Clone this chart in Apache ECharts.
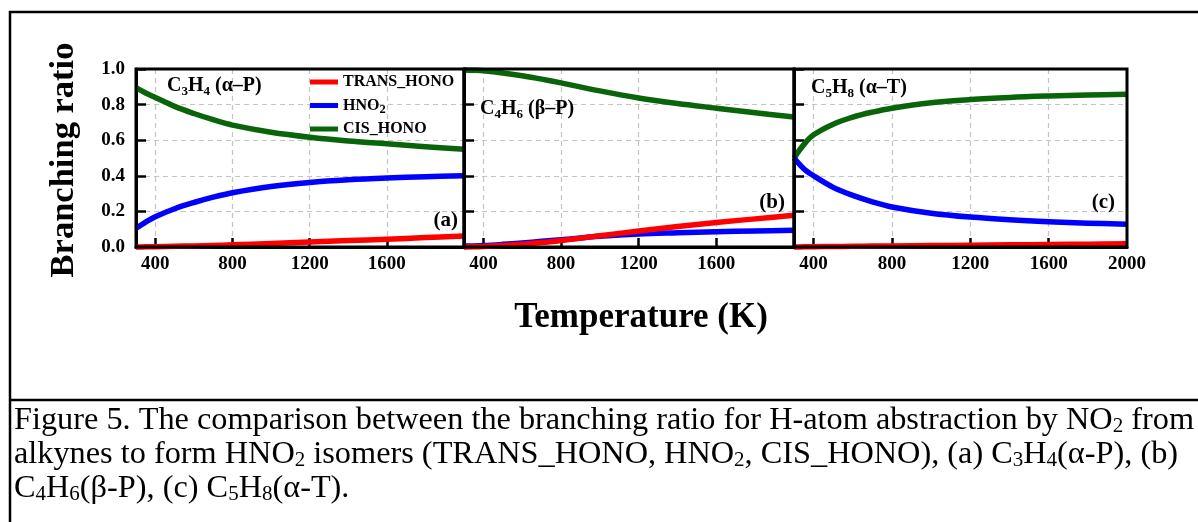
<!DOCTYPE html>
<html>
<head>
<meta charset="utf-8">
<script src="https://cdn.jsdelivr.net/npm/echarts@6/dist/echarts.min.js"></script>
<style>
  html, body { margin: 0; padding: 0; background: #fff; }
  #chart { width: 1198px; height: 522px; }
</style>
</head>
<body>
<div id="chart"></div>
<script>
// Temperature grid (K) shared by all three panels
const temps = [300, 350, 400, 500, 600, 700, 800, 1000, 1200, 1400, 1600, 1800, 2000];

// (a) C3H4 (alpha-P)
const transA = [0.000, 0.001, 0.002, 0.004, 0.006, 0.009, 0.012, 0.020, 0.028, 0.036, 0.044, 0.053, 0.062];
const hno2A  = [0.105, 0.140, 0.170, 0.215, 0.250, 0.280, 0.305, 0.340, 0.363, 0.378, 0.388, 0.395, 0.400];
const cisA   = [0.895, 0.865, 0.840, 0.790, 0.750, 0.715, 0.685, 0.645, 0.617, 0.596, 0.580, 0.563, 0.549];

// (b) C4H6 (beta-P)
const transB = [0.000, 0.001, 0.003, 0.008, 0.015, 0.025, 0.037, 0.063, 0.090, 0.115, 0.138, 0.158, 0.178];
const hno2B  = [0.005, 0.006, 0.008, 0.015, 0.023, 0.032, 0.041, 0.060, 0.073, 0.080, 0.086, 0.090, 0.094];
const cisB   = [0.995, 0.993, 0.990, 0.978, 0.962, 0.943, 0.922, 0.877, 0.837, 0.806, 0.780, 0.754, 0.730];

// (c) C5H8 (alpha-T)
const transC = [0.000, 0.001, 0.002, 0.003, 0.004, 0.005, 0.006, 0.008, 0.010, 0.012, 0.014, 0.016, 0.018];
const hno2C  = [0.500, 0.440, 0.400, 0.335, 0.290, 0.254, 0.225, 0.190, 0.168, 0.153, 0.142, 0.134, 0.128];
const cisC   = [0.500, 0.575, 0.630, 0.690, 0.730, 0.758, 0.780, 0.810, 0.828, 0.840, 0.848, 0.854, 0.858];

const seriesNames = ['TRANS_HONO', 'HNO2', 'CIS_HONO'];
const xTicksInner = [400, 800, 1200, 1600];
const xTicksLast = [400, 800, 1200, 1600, 2000];
const yTicks = { min: 0, max: 1, interval: 0.2 };

const panels = [
  { trans: transA, hno2: hno2A, cis: cisA },
  { trans: transB, hno2: hno2B, cis: cisB },
  { trans: transC, hno2: hno2C, cis: cisC }
];

const SERIF = '"Liberation Serif", "Times New Roman", serif';
const colors = { TRANS_HONO: '#ff0000', HNO2: '#0000ff', CIS_HONO: '#0a650a' };

const gridBoxes = [
  { left: 136, top: 69, width: 328, height: 178 },
  { left: 464, top: 69, width: 330, height: 178 },
  { left: 794, top: 69, width: 333, height: 178 }
];

const dashed = { show: true, lineStyle: { color: '#c4c4c4', type: [5, 4], width: 1.2 } };

// the panel frame sits above the curves; grid lines and ticks stay beneath them
const grids = gridBoxes.map(b => Object.assign({
  show: true, z: 10, borderColor: '#000', borderWidth: 3, backgroundColor: 'transparent',
  containLabel: false, outerBoundsMode: 'none'
}, b));

const xAxes = panels.map((p, i) => ({
  type: 'value', gridIndex: i, min: 300, max: 2000,
  axisLine: { show: true, onZero: false, lineStyle: { color: '#000', width: 3 } },
  axisTick: { show: true, inside: true, length: 9, customValues: xTicksInner, lineStyle: { color: '#000', width: 2.5 } },
  axisLabel: {
    show: true, customValues: i === 2 ? xTicksLast : xTicksInner, margin: 8,
    formatter: v => String(v),
    fontFamily: SERIF, fontWeight: 'bold', fontSize: 19, color: '#000'
  },
  splitLine: dashed
}));

const yAxes = panels.map((p, i) => ({
  type: 'value', gridIndex: i, min: yTicks.min, max: yTicks.max, interval: yTicks.interval,
  axisLine: { show: true, lineStyle: { color: '#000', width: 3 } },
  axisTick: { show: true, inside: true, length: 10, lineStyle: { color: '#000', width: 2.5 } },
  axisLabel: {
    show: i === 0, margin: 11, formatter: v => v.toFixed(1),
    fontFamily: SERIF, fontWeight: 'bold', fontSize: 19, color: '#000'
  },
  splitLine: dashed
}));

const series = [];
panels.forEach((p, i) => {
  const byName = { CIS_HONO: p.cis, HNO2: p.hno2, TRANS_HONO: p.trans };
  ['CIS_HONO', 'HNO2', 'TRANS_HONO'].forEach((name, k) => {
    series.push({
      type: 'line', name, xAxisIndex: i, yAxisIndex: i,
      data: temps.map((t, j) => [t, byName[name][j]]),
      smooth: 0.35, showSymbol: false, symbol: 'none', sampling: null, clip: false,
      lineStyle: { width: 5.5, color: colors[name], cap: 'butt', join: 'round' },
      itemStyle: { color: colors[name] },
      z: 2 + k, silent: true, animation: false
    });
  });
});

const labelRich = {
  m: { fontFamily: SERIF, fontWeight: 'bold', fontSize: 20, lineHeight: 30, fill: '#000' },
  s: { fontFamily: SERIF, fontWeight: 'bold', fontSize: 13, padding: [12, 0, 0, 0], fill: '#000' }
};
function panelLabel(text, x, y) {
  return {
    type: 'text', x, y, z: 20, silent: true,
    style: { text, rich: labelRich, align: 'left', verticalAlign: 'middle', fill: '#000' }
  };
}
function cornerTag(text, x, y) {
  return {
    type: 'text', x, y, z: 20, silent: true,
    style: { text, fontFamily: SERIF, fontWeight: 'bold', fontSize: 21, fill: '#000', align: 'right', verticalAlign: 'middle' }
  };
}

const capRich = {
  t: { fontFamily: SERIF, fontSize: 32.3, lineHeight: 34, fill: '#000' },
  s: { fontFamily: SERIF, fontSize: 21, padding: [11, 0, 0, 0], fill: '#000' }
};
const caption =
  '{t|Figure 5. The comparison between the branching ratio for H-atom abstraction by NO}{s|2}{t| from}\n' +
  '{t|alkynes to form HNO}{s|2}{t| isomers (TRANS_HONO, HNO}{s|2}{t|, CIS_HONO), (a) C}{s|3}{t|H}{s|4}{t|(α-P), (b)}\n' +
  '{t|C}{s|4}{t|H}{s|6}{t|(β-P), (c) C}{s|5}{t|H}{s|8}{t|(α-T).}';

const frame = { stroke: '#000', lineWidth: 2.5 };

const option = {
  backgroundColor: '#fff',
  animation: false,
  grid: grids,
  xAxis: xAxes,
  yAxis: yAxes,
  legend: {
    show: true, left: 310, top: 74, orient: 'vertical', padding: 0, z: 12,
    itemWidth: 28, itemHeight: 5, itemGap: 5, icon: 'rect',
    data: seriesNames, selectedMode: false,
    formatter: n => n === 'HNO2' ? '{b|HNO}{s|2}' : '{b|' + n + '}',
    textStyle: {
      color: '#000', padding: [0, 0, 0, 0],
      rich: {
        b: { fontFamily: SERIF, fontWeight: 'bold', fontSize: 16, lineHeight: 17, color: '#000' },
        s: { fontFamily: SERIF, fontWeight: 'bold', fontSize: 12.5, lineHeight: 17, padding: [8, 0, 0, 0], color: '#000' }
      }
    }
  },
  series,
  graphic: [
    { type: 'line', silent: true, shape: { x1: 9, y1: 12, x2: 1198, y2: 12 }, style: frame },
    { type: 'line', silent: true, shape: { x1: 10, y1: 11, x2: 10, y2: 522 }, style: frame },
    { type: 'line', silent: true, shape: { x1: 9, y1: 400, x2: 1198, y2: 400 }, style: frame },
    {
      type: 'text', x: 64, y: 160, rotation: Math.PI / 2, silent: true,
      style: { text: 'Branching ratio', fontFamily: SERIF, fontWeight: 'bold', fontSize: 34.5, fill: '#000', align: 'center', verticalAlign: 'middle' }
    },
    {
      type: 'text', x: 641, y: 318, silent: true,
      style: { text: 'Temperature (K)', fontFamily: SERIF, fontWeight: 'bold', fontSize: 35, fill: '#000', align: 'center', verticalAlign: 'middle' }
    },
    panelLabel('{m|C}{s|3}{m|H}{s|4}{m| (α–P)}', 167, 86),
    panelLabel('{m|C}{s|4}{m|H}{s|6}{m| (β–P)}', 480, 109),
    panelLabel('{m|C}{s|5}{m|H}{s|8}{m| (α–T)}', 811, 88),
    cornerTag('(a)', 458, 221),
    cornerTag('(b)', 785, 203),
    cornerTag('(c)', 1115, 203),
    {
      type: 'text', x: 14, y: 404, silent: true,
      style: { text: caption, rich: capRich, align: 'left', verticalAlign: 'top', fill: '#000' }
    }
  ]
};

const chart = echarts.init(document.getElementById('chart'), null, { renderer: 'canvas' });
chart.setOption(option);
</script>
</body>
</html>
